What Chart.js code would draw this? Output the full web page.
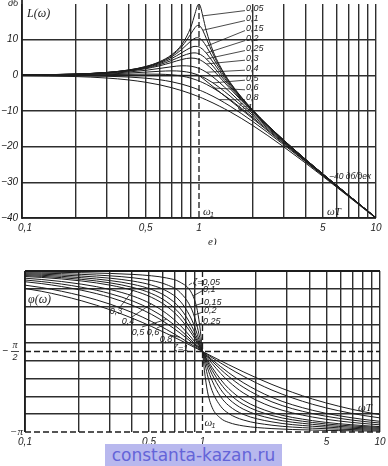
<!DOCTYPE html>
<html>
<head>
<meta charset="utf-8">
<title>L(ω), φ(ω)</title>
<script src="https://cdn.jsdelivr.net/npm/chart.js@4.4.1/dist/chart.umd.min.js"></script>
<style>
  html, body { margin: 0; padding: 0; background: #ffffff; }
  #page { position: relative; width: 388px; height: 466px; overflow: hidden; background: #ffffff; }
  #gainChart { position: absolute; left: 0; top: 0; }
  #phaseChart { position: absolute; left: 0; top: 245px; }
  #mark {
    position: absolute; left: 105px; top: 444px; width: 177px; height: 22px;
    background: #b8b8ee; color: #6464d8;
    font: 17px "DejaVu Sans", sans-serif; line-height: 22px; text-align: center;
  }
</style>
</head>
<body>
<div id="page">
  <canvas id="gainChart" width="388" height="245"></canvas>
  <canvas id="phaseChart" width="388" height="221"></canvas>
  <div id="mark">constanta-kazan.ru</div>
</div>
<script>
// ωT points the gain curves were read at
const omegaT = [0.1, 0.2, 0.3, 0.4, 0.5, 0.6, 0.7, 0.8, 0.9, 0.95, 0.98, 1, 1.02, 1.05, 1.1, 1.2, 1.3, 1.5, 2, 3, 5, 10];
// the phase plate is drawn a bit wider on the ωT axis, so its points sit here
const phaseOmegaT = [0.0501, 0.1234, 0.2091, 0.304, 0.4061, 0.5148, 0.6289, 0.7482, 0.8719, 0.9355, 0.9741, 1, 1.0261, 1.0655, 1.1318, 1.2674, 1.4065, 1.6937, 2.4623, 4.1719, 8.1037, 19.953];

// L(ω), дб, one array per ζ
const gain005 = [0.09, 0.35, 0.81, 1.50, 2.48, 3.84, 5.77, 8.66, 13.55, 17.32, 19.52, 20.0, 19.20, 16.67, 12.50, 6.82, 3.07, -2.00, -9.56, -18.07, -27.61, -39.91];
const gain01 = [0.09, 0.35, 0.80, 1.47, 2.42, 3.73, 5.53, 8.09, 11.64, 13.41, 13.98, 13.98, 13.64, 12.63, 10.34, 6.00, 2.65, -2.18, -9.62, -18.09, -27.61, -39.92];
const gain015 = [0.08, 0.34, 0.78, 1.43, 2.33, 3.55, 5.17, 7.28, 9.63, 10.42, 10.56, 10.46, 10.21, 9.60, 8.15, 4.91, 2.02, -2.47, -9.71, -18.12, -27.62, -39.92];
const gain02 = [0.08, 0.32, 0.74, 1.36, 2.20, 3.31, 4.70, 6.35, 7.81, 8.13, 8.09, 7.96, 7.75, 7.28, 6.24, 3.73, 1.27, -2.84, -9.84, -18.16, -27.63, -39.92];
const gain025 = [0.08, 0.31, 0.70, 1.27, 2.04, 3.01, 4.17, 5.38, 6.22, 6.29, 6.17, 6.02, 5.82, 5.43, 4.60, 2.57, 0.46, -3.27, -10.00, -18.21, -27.65, -39.92];
const gain03 = [0.07, 0.29, 0.65, 1.17, 1.85, 2.68, 3.60, 4.44, 4.85, 4.76, 4.59, 4.44, 4.25, 3.90, 3.19, 1.47, -0.35, -3.75, -10.19, -18.28, -27.67, -39.93];
const gain04 = [0.06, 0.24, 0.53, 0.93, 1.41, 1.94, 2.41, 2.68, 2.56, 2.31, 2.10, 1.94, 1.76, 1.45, 0.87, -0.47, -1.93, -4.78, -10.63, -18.44, -27.72, -39.94];
const gain05 = [0.04, 0.17, 0.37, 0.63, 0.90, 1.14, 1.25, 1.14, 0.73, 0.40, 0.17, 0.00, -0.18, -0.47, -0.98, -2.13, -3.36, -5.81, -11.14, -18.63, -27.79, -39.96];
const gain06 = [0.02, 0.09, 0.19, 0.29, 0.35, 0.32, 0.15, -0.22, -0.80, -1.17, -1.41, -1.58, -1.76, -2.04, -2.52, -3.55, -4.64, -6.81, -11.69, -18.86, -27.87, -39.98];
const gain08 = [-0.02, -0.10, -0.25, -0.47, -0.80, -1.24, -1.80, -2.47, -3.24, -3.65, -3.91, -4.08, -4.26, -4.52, -4.97, -5.89, -6.81, -8.65, -12.84, -19.40, -28.06, -40.02];
const gain1 = [-0.09, -0.34, -0.75, -1.29, -1.94, -2.67, -3.46, -4.30, -5.15, -5.59, -5.85, -6.02, -6.19, -6.45, -6.89, -7.75, -8.60, -10.24, -13.98, -20.00, -28.30, -40.09];

// φ(ω), degrees, one array per ζ
const phase005 = [-0.58, -1.19, -1.89, -2.73, -3.81, -5.36, -7.82, -12.53, -25.35, -44.26, -68.00, -90, -111.61, -134.31, -152.35, -164.74, -169.33, -173.16, -176.19, -177.85, -178.81, -179.42];
const phase01 = [-1.16, -2.39, -3.77, -5.44, -7.59, -10.62, -15.35, -23.96, -43.45, -62.83, -78.58, -90, -101.20, -116.02, -133.67, -151.39, -159.36, -166.50, -172.41, -175.71, -177.61, -178.84];
const phase015 = [-1.74, -3.58, -5.65, -8.13, -11.31, -15.71, -22.38, -33.69, -54.87, -71.11, -82.33, -90, -97.52, -108.02, -122.47, -140.71, -150.52, -160.20, -168.69, -173.58, -176.42, -178.26];
const phase02 = [-2.31, -4.76, -7.51, -10.78, -14.93, -20.56, -28.77, -41.63, -62.18, -75.61, -84.23, -90, -95.65, -103.71, -115.51, -132.51, -143.00, -154.36, -165.07, -171.47, -175.24, -177.69];
const phase025 = [-2.89, -5.95, -9.36, -13.39, -18.43, -25.11, -34.46, -48.01, -67.11, -78.40, -85.38, -90, -94.53, -101.05, -110.90, -126.25, -136.71, -149.04, -161.57, -169.38, -174.05, -177.11];
const phase03 = [-3.47, -7.13, -11.19, -15.95, -21.80, -29.36, -39.47, -53.13, -70.62, -80.29, -86.15, -90, -93.78, -99.24, -107.65, -121.43, -131.50, -144.25, -158.20, -167.32, -172.87, -176.53];
const phase04 = [-4.62, -9.46, -14.77, -20.85, -28.07, -36.87, -47.68, -60.64, -75.22, -82.69, -87.11, -90, -92.83, -96.96, -103.42, -114.62, -123.56, -136.17, -151.93, -163.30, -170.54, -175.38];
const phase05 = [-5.77, -11.77, -18.25, -25.46, -33.69, -43.15, -53.92, -65.77, -78.08, -84.14, -87.69, -90, -92.27, -95.58, -100.81, -110.14, -117.96, -129.81, -146.31, -159.44, -168.23, -174.23];
const phase06 = [-6.91, -14.04, -21.58, -29.74, -38.66, -48.37, -58.74, -69.44, -80.02, -85.11, -88.07, -90, -91.89, -94.65, -99.04, -106.99, -113.86, -124.78, -141.34, -155.77, -165.96, -173.09];
const phase08 = [-9.18, -18.43, -27.81, -37.30, -46.85, -56.31, -65.52, -74.29, -82.48, -86.33, -88.55, -90, -91.42, -93.49, -96.80, -102.91, -108.35, -117.51, -133.15, -149.04, -161.57, -170.82];
const phase1 = [-11.42, -22.62, -33.40, -43.60, -53.13, -61.93, -69.98, -77.32, -83.97, -87.06, -88.84, -90, -91.13, -92.79, -95.45, -100.39, -104.86, -112.62, -126.87, -143.13, -157.38, -168.58];

// -40 дб/дек asymptote
const asymptoteOmega = [0.1, 1, 10];
const asymptoteGain = [0, 0, -40];

const zetaLabels = ['0,05', '0,1', '0,15', '0,2', '0,25', '0,3', '0,4', '0,5', '0,6', '0,8', 'ζ=1'];
const gridOmega = [0.1, 0.2, 0.3, 0.4, 0.5, 0.6, 0.7, 0.8, 0.9, 1, 2, 3, 4, 5, 6, 7, 8, 9, 10];
const omegaTicks = [0.1, 0.5, 1, 5, 10];
const omegaTickLabels = ['0,1', '0,5', '1', '5', '10'];
const gainTicks = [10, 0, -10, -20, -30, -40];
const gainTickLabels = ['10', '0', '−10', '−20', '−30', '−40'];
const phaseGrid = [-180, -160, -140, -120, -100, -90, -80, -60, -40, -20, 0];

const gainSeries = [gain005, gain01, gain015, gain02, gain025, gain03, gain04, gain05, gain06, gain08, gain1];
const phaseSeries = [phase005, phase01, phase015, phase02, phase025, phase03, phase04, phase05, phase06, phase08, phase1];

// ---- look ----
const ink = '#1c1c1c';
const gridInk = '#2e2e2e';
const numFont = 'italic 10px "Liberation Sans"';
const zetaFont = 'italic 9px "Liberation Sans"';
const titleFont = 'italic 12px "Liberation Serif"';

// ζ label spots on the gain plate (ωT, дб); leaders start at a point of each curve
const gainLabelAt = [[1.843, 18.7], [1.843, 15.9], [1.843, 13.1], [1.843, 10.3], [1.843, 7.5], [1.843, 4.8],
                     [1.843, 2.0], [1.843, -0.8], [1.843, -3.5], [1.843, -6.3], [1.66, -9.1]];
const gainLeaderPoint = [13, 13, 14, 14, 14, 14, 14, 15, 15, 16];
const phaseRightLabels = [['ζ=0,05', 0.884, -12.3], ['0,1', 1.0065, -21.2], ['0,15', 1.019, -34.7], ['0,2', 1.019, -44.7], ['0,25', 1.0065, -57.0]];
const phaseRightLeaderTo = [[0.837, -15.7], [0.884, -28], [0.895, -39], [0.906, -49], [0.918, -61.5]];
const phaseLeftLabels = [['0,3', 0.3258, -45.8], ['0,4', 0.3804, -57.0], ['0,5', 0.4329, -68.2], ['0,6', 0.526, -69.3], ['0,8', 0.6228, -77.1], ['ζ=1', 0.7567, -87.2]];
const phaseLeftLeaderTo = [[5, 4], [6, 5], [7, 6], [8, 6], [9, 7]]; // [series, point index]

function curve(xs, values) {
    return {
        data: xs.map((w, i) => ({ x: w, y: values[i] })),
        borderColor: ink,
        borderWidth: 1,
        pointRadius: 0,
        fill: false,
        cubicInterpolationMode: 'monotone'
    };
}

function seg(ctx, x0, y0, x1, y1) {
    ctx.beginPath();
    ctx.moveTo(x0, y0);
    ctx.lineTo(x1, y1);
    ctx.stroke();
}

function txt(ctx, s, x, y, font, align) {
    ctx.font = font;
    ctx.textAlign = align || 'left';
    ctx.textBaseline = 'middle';
    ctx.fillText(s, x, y);
}

function omegaOne(ctx, x, y) {
    txt(ctx, 'ω', x, y, 'italic 11px "Liberation Serif"');
    txt(ctx, '1', x + 7, y + 3, 'italic 7px "Liberation Sans"');
}

function axisOptions(yMin, yMax, yGrid, hideY) {
    return {
        x: {
            type: 'logarithmic', min: 0.1, max: 10,
            afterBuildTicks: axis => { axis.ticks = gridOmega.map(v => ({ value: v })); },
            ticks: { display: false },
            grid: { drawTicks: false, lineWidth: 1.4, color: c => (c.tick && c.tick.value === 1) ? 'rgba(0,0,0,0)' : gridInk },
            border: { display: false }
        },
        y: {
            type: 'linear', min: yMin, max: yMax,
            afterBuildTicks: axis => { axis.ticks = yGrid.map(v => ({ value: v })); },
            ticks: { display: false },
            grid: { drawTicks: false, lineWidth: 1.4, color: c => (c.tick && hideY.includes(c.tick.value)) ? 'rgba(0,0,0,0)' : gridInk },
            border: { display: false }
        }
    };
}

const gainDecor = {
    id: 'gainDecor',
    afterDraw(chart) {
        const { ctx, chartArea: a, scales: { x, y } } = chart;
        ctx.save();
        ctx.strokeStyle = ink;
        ctx.fillStyle = ink;
        ctx.lineWidth = 1.7;
        seg(ctx, a.left, 0, a.left, a.bottom + 1);
        seg(ctx, a.left, a.bottom, a.right, a.bottom);
        ctx.lineWidth = 1.3;
        ctx.setLineDash([6, 3]);
        const x1 = x.getPixelForValue(1);
        seg(ctx, x1, a.top, x1, a.bottom);
        ctx.setLineDash([]);

        ctx.lineWidth = 0.8;
        gainLeaderPoint.forEach((idx, i) => {
            const pt = chart.getDatasetMeta(i).data[idx];
            const q = gainLabelAt[i];
            seg(ctx, pt.x, pt.y, x.getPixelForValue(q[0]) - 1, y.getPixelForValue(q[1]) + 2);
        });
        zetaLabels.forEach((s, i) => {
            const q = gainLabelAt[i];
            txt(ctx, s, x.getPixelForValue(q[0]), y.getPixelForValue(q[1]), zetaFont);
        });

        gainTicks.forEach((v, i) => txt(ctx, gainTickLabels[i], a.left - 4, y.getPixelForValue(v), numFont, 'right'));
        txt(ctx, 'дб', a.left - 4, 3, 'italic 9px "Liberation Sans"', 'right');
        omegaTicks.forEach((v, i) => txt(ctx, omegaTickLabels[i], x.getPixelForValue(v) + (i === 0 ? 3 : 0), a.bottom + 10, numFont, 'center'));
        txt(ctx, 'L(ω)', a.left + 5, a.top + 10, titleFont);
        omegaOne(ctx, x1 + 4, a.bottom - 6);
        txt(ctx, 'ωT', 327, a.bottom - 6, 'italic 11px "Liberation Serif"');
        txt(ctx, '−40 дб/дек', 329, y.getPixelForValue(-28.3), 'italic 8.5px "Liberation Sans"');
        txt(ctx, 'е)', x1 + 9, a.bottom + 24, 'italic 11px "Liberation Serif"');
        ctx.restore();
    }
};

const phaseDecor = {
    id: 'phaseDecor',
    afterDraw(chart) {
        const { ctx, chartArea: a, scales: { x, y } } = chart;
        ctx.save();
        ctx.strokeStyle = ink;
        ctx.fillStyle = ink;
        ctx.lineWidth = 1.7;
        seg(ctx, a.left, a.top, a.left, a.bottom);
        ctx.lineWidth = 2;
        seg(ctx, a.left, a.top, a.right, a.top);
        ctx.lineWidth = 1.3;
        ctx.setLineDash([6, 3]);
        const x1 = x.getPixelForValue(1);
        seg(ctx, x1, a.top, x1, a.bottom);
        [-90, -180].forEach(v => seg(ctx, a.left, y.getPixelForValue(v), a.right, y.getPixelForValue(v)));
        ctx.setLineDash([]);

        ctx.lineWidth = 0.8;
        phaseRightLabels.forEach((l, i) => {
            const px = x.getPixelForValue(l[1]), py = y.getPixelForValue(l[2]);
            const t = phaseRightLeaderTo[i];
            seg(ctx, px - 1, py + 1, x.getPixelForValue(t[0]), y.getPixelForValue(t[1]));
            txt(ctx, l[0], px, py, zetaFont);
        });
        phaseLeftLabels.forEach((l, i) => {
            const px = x.getPixelForValue(l[1]), py = y.getPixelForValue(l[2]);
            if (phaseLeftLeaderTo[i]) {
                const pt = chart.getDatasetMeta(phaseLeftLeaderTo[i][0]).data[phaseLeftLeaderTo[i][1]];
                seg(ctx, px + 4, py - 5, pt.x, pt.y);
            }
            txt(ctx, l[0], px, py, zetaFont, 'center');
        });

        omegaTicks.forEach((v, i) => txt(ctx, omegaTickLabels[i], x.getPixelForValue(v), a.bottom + 10, numFont, 'center'));
        txt(ctx, 'φ(ω)', a.left + 3, y.getPixelForValue(-32), titleFont);
        const yh = y.getPixelForValue(-90);
        txt(ctx, '−', 5, yh, numFont, 'center');
        txt(ctx, 'π', 15, yh - 6, 'italic 10px "Liberation Serif"', 'center');
        ctx.lineWidth = 0.8;
        seg(ctx, 11, yh, 19, yh);
        txt(ctx, '2', 15, yh + 6, 'italic 9px "Liberation Sans"', 'center');
        txt(ctx, '−π', a.left - 2, a.bottom, 'italic 11px "Liberation Serif"', 'right');
        omegaOne(ctx, x1 + 2, a.bottom - 9);
        txt(ctx, 'ωT', 358, a.bottom - 24, 'italic 11px "Liberation Serif"');
        ctx.restore();
    }
};

window.addEventListener('DOMContentLoaded', function() {
    const gainSets = gainSeries.map(v => curve(omegaT, v));
    gainSets.push({
        data: asymptoteOmega.map((w, i) => ({ x: w, y: asymptoteGain[i] })),
        borderColor: ink, borderWidth: 1, pointRadius: 0, fill: false, tension: 0
    });

    new Chart(document.getElementById('gainChart'), {
        type: 'line',
        data: { datasets: gainSets },
        options: {
            responsive: false,
            animation: false,
            events: [],
            layout: { padding: { left: 22, right: 12, top: 4, bottom: 27 } },
            plugins: { legend: { display: false }, tooltip: { enabled: false } },
            scales: axisOptions(-40, 20, [-40, -30, -20, -10, 0, 10, 20], [20])
        },
        plugins: [gainDecor]
    });

    new Chart(document.getElementById('phaseChart'), {
        type: 'line',
        data: { datasets: phaseSeries.map(v => curve(phaseOmegaT, v)) },
        options: {
            responsive: false,
            animation: false,
            events: [],
            layout: { padding: { left: 25, right: 8, top: 26, bottom: 34 } },
            plugins: { legend: { display: false }, tooltip: { enabled: false } },
            scales: axisOptions(-180, 0, phaseGrid, [-90, -180, 0])
        },
        plugins: [phaseDecor]
    });
});
</script>
</body>
</html>
